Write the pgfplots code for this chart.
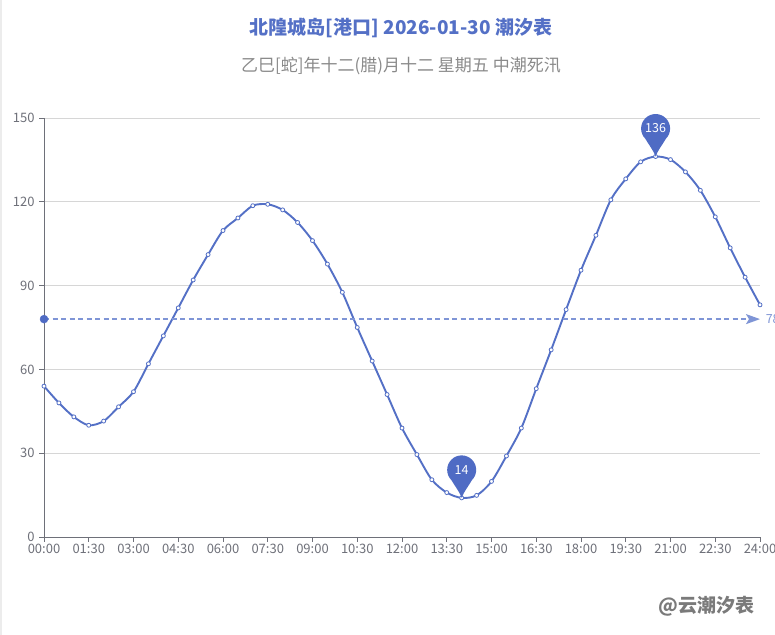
\documentclass[border=0pt]{standalone}
\usepackage{fontspec}
\setmainfont{Noto Sans CJK SC}
\usepackage{pgfplots}
\pgfplotsset{compat=1.18}
\usetikzlibrary{arrows.meta}
\definecolor{tideblue}{HTML}{5470C6}
\definecolor{markblue}{HTML}{4F6BC4}
\definecolor{dashblue}{HTML}{7F95D6}
\definecolor{axisgray}{HTML}{6E7079}
\definecolor{gridgray}{HTML}{D6D6D6}
\definecolor{subgray}{HTML}{8A8A8A}
\definecolor{wmgray}{HTML}{7A7A7A}
\pgfdeclareplotmark{pin}{%
  \pgfpathmoveto{\pgfqpoint{0bp}{0bp}}%
  \pgfpathcurveto{\pgfqpoint{-2bp}{6bp}}{\pgfqpoint{-7bp}{12bp}}{\pgfqpoint{-10.25bp}{17.75bp}}%
  \pgfpatharc{225}{-45}{14.5bp}%
  \pgfpathcurveto{\pgfqpoint{7bp}{12bp}}{\pgfqpoint{2bp}{6bp}}{\pgfqpoint{0bp}{0bp}}%
  \pgfpathclose
  \pgfusepathqfill
}
\begin{document}
\begin{tikzpicture}[x=1bp,y=1bp]
\path[use as bounding box, fill=white] (0,0) rectangle (775,635);
\draw[gray!15, line width=2bp] (1,0) -- (1,635);
\node[font=\bfseries\fontsize{19bp}{21bp}\selectfont, text=tideblue] at (401,607) {北隍城岛[港口] 2026-01-30 潮汐表};
\node[font=\fontsize{17bp}{19bp}\selectfont, text=subgray] at (401,569) {乙巳[蛇]年十二(腊)月十二 星期五 中潮死汛};
\node[font=\bfseries\fontsize{19bp}{21bp}\selectfont, text=wmgray, anchor=east] at (758,29) {@云潮汐表};
\begin{axis}[
  at={(44bp,98bp)}, anchor=south west,
  scale only axis, width=716bp, height=419bp,
  xmin=0, xmax=24, ymin=0, ymax=150,
  xtick={0,1.5,...,24},
  xticklabels={00:00,01:30,03:00,04:30,06:00,07:30,09:00,10:30,12:00,13:30,15:00,16:30,18:00,19:30,21:00,22:30,24:00},
  ytick={0,30,60,90,120,150},
  axis x line*=bottom, axis y line*=left,
  axis line style={axisgray, line width=0.8bp, -},
  tick style={axisgray, line width=0.8bp},
  tick align=outside, major tick length=5bp,
  ymajorgrids, grid style={gridgray, line width=0.7bp},
  ticklabel style={text=axisgray, font=\fontsize{13bp}{15bp}\selectfont},
  /pgf/number format/assume math mode=true,
  xticklabel style={yshift=1bp},
  yticklabel style={xshift=-1bp},
  clip=false,
]
\addplot[tideblue, line width=1.9bp, smooth, tension=0.5,
  mark=*, mark size=2bp, mark options={fill=white, draw=tideblue, line width=0.8bp}]
coordinates {
(0,54.0) (0.5,48.0) (1,43.0) (1.5,40.0) (2,41.5) (2.5,46.6) (3,52.0) (3.5,62.0)
(4,72.0) (4.5,82.0) (5,92.0) (5.5,101.1) (6,109.7) (6.5,114.2) (7,118.6) (7.5,119.1)
(8,117.1) (8.5,112.6) (9,106.1) (9.5,97.7) (10,87.6) (10.5,75.0) (11,63.0) (11.5,51.0)
(12,39.0) (12.5,29.5) (13,20.5) (13.5,15.9) (14,14.0) (14.5,14.9) (15,19.9) (15.5,29.0)
(16,39.0) (16.5,53.1) (17,67.0) (17.5,81.4) (18,95.5) (18.5,108.0) (19,120.7) (19.5,128.2)
(20,134.3) (20.5,136.2) (21,135.1) (21.5,130.7) (22,124.1) (22.5,114.6) (23,103.5) (23.5,93.0)
(24,83.1)
};
% average mark line
\addplot[draw=dashblue, line width=1.5bp, dash pattern=on 5bp off 3.5bp,
  -{Stealth[length=14bp, width=10bp, inset=3bp, fill=dashblue]}]
coordinates {(0,78) (24,78)} node[pos=1, anchor=west, inner sep=0pt, xshift=5bp, text=dashblue, font=\fontsize{12.5bp}{14bp}\selectfont] {78};
\addplot[only marks, mark=*, mark size=4bp, markblue] coordinates {(0,78)};
% max / min pins
\addplot[only marks, mark=pin, mark options={fill=markblue, draw=none},
  nodes near coords={\pgfmathprintnumber{\pgfplotspointmeta}},
  nodes near coords style={anchor=center, yshift=28bp, text=white,
    font=\fontsize{12.5bp}{14bp}\selectfont},
  point meta=explicit]
coordinates {(14,14.0) [14] (20.5,136.2) [136]};
\end{axis}
\end{tikzpicture}
\end{document}
